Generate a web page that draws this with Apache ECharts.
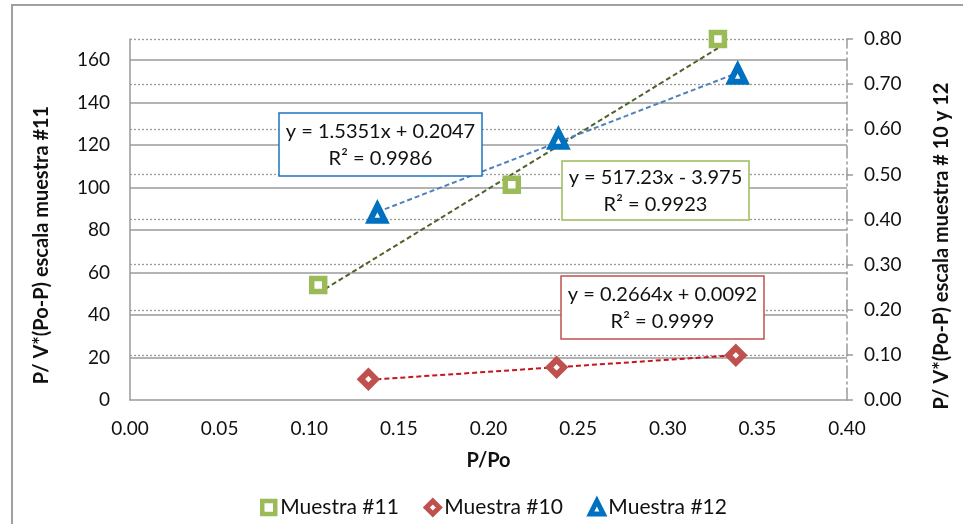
<!DOCTYPE html>
<html>
<head>
<meta charset="utf-8">
<script src="https://cdn.jsdelivr.net/npm/echarts@6/dist/echarts.min.js"></script>
<style>
  html, body { margin: 0; padding: 0; background: #fff; }
  #chart { width: 963px; height: 524px; }
</style>
</head>
<body>
<div id="chart"></div>
<script>
// Series names
const seriesNames = ['Muestra #11', 'Muestra #10', 'Muestra #12'];

// Muestra #11 (left axis)
const m11X = [0.105, 0.213, 0.328];
const m11Y = [54.2, 101.4, 170];

// Muestra #10 (right axis)
const m10X = [0.133, 0.238, 0.338];
const m10Y = [0.046, 0.0725, 0.099];

// Muestra #12 (right axis)
const m12X = [0.138, 0.239, 0.339];
const m12Y = [0.414, 0.578, 0.722];

// Linear trend fits, as printed next to each series
const fitSlope = [517.23, 0.2664, 1.5351];
const fitIntercept = [-3.975, 0.0092, 0.2047];
const fitR2 = [0.9923, 0.9999, 0.9986];

// Axis ranges and tick steps
const xRange = [0, 0.4, 0.05];
const leftRange = [0, 170, 20];
const rightRange = [0, 0.8, 0.1];

const FONT = 'Lato';
const colors = {
  m11: '#9bbb59', m11Trend: '#4f6228',
  m10: '#c0504d', m10Trend: '#c8141c',
  m12: '#0070c0', m12Trend: '#4f81bd',
  grid: '#9a9a9a'
};

function pairs(xs, ys) { return xs.map((x, i) => [x, ys[i]]); }

function trend(xs, k) {
  const lo = Math.min(...xs), hi = Math.max(...xs);
  return [lo, hi].map(x => [x, fitSlope[k] * x + fitIntercept[k]]);
}

function eqText(k) {
  const b = fitIntercept[k];
  const sign = b < 0 ? '- ' : '+ ';
  return 'y = ' + fitSlope[k] + 'x ' + sign + Math.abs(b) + '\nR\u00b2 = ' + fitR2[k];
}

function eqBox(k, x, y, w, h, stroke) {
  return {
    type: 'group', x: x, y: y,
    children: [
      { type: 'rect', z: 100, shape: { x: 0, y: 0, width: w, height: h },
        style: { fill: '#ffffff', stroke: stroke, lineWidth: 1.5 } },
      { type: 'text', z: 101, x: w / 2, y: h / 2 + 1,
        style: { text: eqText(k), font: '20px ' + FONT, fill: '#111',
                 align: 'center', verticalAlign: 'middle', lineHeight: 27 } }
    ]
  };
}

const chart = echarts.init(document.getElementById('chart'), null, { renderer: 'canvas' });

const scatterBase = { type: 'scatter', z: 5 };
const trendBase = { type: 'line', showSymbol: false, silent: true, z: 3, smooth: false };

const option = {
  animation: false,
  backgroundColor: '#fff',
  textStyle: { fontFamily: FONT },
  grid: { left: 130, right: 116, top: 39, bottom: 124, containLabel: false },
  xAxis: {
    type: 'value', min: xRange[0], max: xRange[1], interval: xRange[2],
    name: 'P/Po', nameLocation: 'middle', nameGap: 51,
    nameTextStyle: { fontFamily: FONT, fontSize: 20, fontWeight: 'bold', color: '#111' },
    axisLine: { show: true, lineStyle: { color: colors.grid, width: 1.5 } },
    axisTick: { show: false },
    splitLine: { show: false },
    axisLabel: { margin: 19, fontFamily: FONT, fontSize: 19, color: '#111',
                 formatter: v => v.toFixed(2) }
  },
  yAxis: [
    {
      type: 'value', position: 'left', min: leftRange[0], max: leftRange[1], interval: leftRange[2],
      axisLine: { show: true, lineStyle: { color: colors.grid, width: 1.5 } },
      axisTick: { show: false },
      splitLine: { show: true, showMinLine: false, showMaxLine: false,
                   lineStyle: { color: colors.grid, width: 1.5, type: 'solid' } },
      axisLabel: { margin: 20, fontFamily: FONT, fontSize: 19, color: '#111',
                   showMaxLabel: false, formatter: v => String(v) }
    },
    {
      type: 'value', position: 'right', min: rightRange[0], max: rightRange[1], interval: rightRange[2],
      axisLine: { show: true, lineStyle: { color: colors.grid, width: 1.5, type: [12, 4, 2, 4] } },
      axisTick: { show: true, length: 6, lineStyle: { color: colors.grid, width: 1.5 } },
      splitLine: { show: true, showMinLine: false,
                   lineStyle: { color: colors.grid, width: 1.3, type: [2, 2] } },
      axisLabel: { margin: 17, fontFamily: FONT, fontSize: 19, color: '#111',
                   formatter: v => v.toFixed(2) }
    }
  ],
  legend: {
    left: 255, top: 492,
    itemWidth: 13, itemHeight: 13, itemGap: 25,
    textStyle: { fontFamily: FONT, fontSize: 21, color: '#111' },
    data: [
      { name: seriesNames[0], icon: 'rect',
        itemStyle: { color: '#fff', borderColor: colors.m11, borderWidth: 4.5 } },
      { name: seriesNames[1], icon: 'diamond',
        itemStyle: { color: '#fff', borderColor: colors.m10, borderWidth: 5 } },
      { name: seriesNames[2], icon: 'triangle',
        itemStyle: { color: '#fff', borderColor: colors.m12, borderWidth: 5 } }
    ]
  },
  series: [
    Object.assign({}, trendBase, {
      name: 'trend11', yAxisIndex: 0, data: trend(m11X, 0),
      lineStyle: { color: colors.m11Trend, width: 2, type: [5, 3] }
    }),
    Object.assign({}, trendBase, {
      name: 'trend10', yAxisIndex: 1, data: trend(m10X, 1),
      lineStyle: { color: colors.m10Trend, width: 2, type: [5, 3] }
    }),
    Object.assign({}, trendBase, {
      name: 'trend12', yAxisIndex: 1, data: trend(m12X, 2),
      lineStyle: { color: colors.m12Trend, width: 2, type: [5, 3] }
    }),
    Object.assign({}, scatterBase, {
      name: seriesNames[0], yAxisIndex: 0, data: pairs(m11X, m11Y),
      symbol: 'rect', symbolSize: 13,
      itemStyle: { color: '#fff', borderColor: colors.m11, borderWidth: 5.5, opacity: 1 }
    }),
    Object.assign({}, scatterBase, {
      name: seriesNames[1], yAxisIndex: 1, data: pairs(m10X, m10Y),
      symbol: 'diamond', symbolSize: 15,
      itemStyle: { color: '#fff', borderColor: colors.m10, borderWidth: 6, opacity: 1 }
    }),
    Object.assign({}, scatterBase, {
      name: seriesNames[2], yAxisIndex: 1, data: pairs(m12X, m12Y),
      symbol: 'triangle', symbolSize: [15, 15],
      itemStyle: { color: '#fff', borderColor: colors.m12, borderWidth: 6, opacity: 1 }
    })
  ],
  graphic: [
    // chart frame (left and top edges visible)
    { type: 'rect', shape: { x: 12, y: 5, width: 1000, height: 600 },
      style: { fill: 'none', stroke: '#a0a0a0', lineWidth: 2 }, z: 0, silent: true },
    // vertical axis titles
    { type: 'text', x: 42, y: 245, rotation: Math.PI / 2, z: 50,
      style: { text: 'P/ V*(Po-P) escala muestra #11', font: 'bold 20px ' + FONT,
               fill: '#111', align: 'center', verticalAlign: 'middle' } },
    { type: 'text', x: 942, y: 246, rotation: Math.PI / 2, z: 50,
      style: { text: 'P/ V*(Po-P) escala muestra # 10 y 12', font: 'bold 20px ' + FONT,
               fill: '#111', align: 'center', verticalAlign: 'middle' } },
    // fit equations
    eqBox(2, 279, 113, 203, 63, '#1a74c4'),
    eqBox(0, 562, 161, 187, 59, colors.m11),
    eqBox(1, 561, 276, 203, 63, colors.m10)
  ]
};

chart.setOption(option);
</script>
</body>
</html>
